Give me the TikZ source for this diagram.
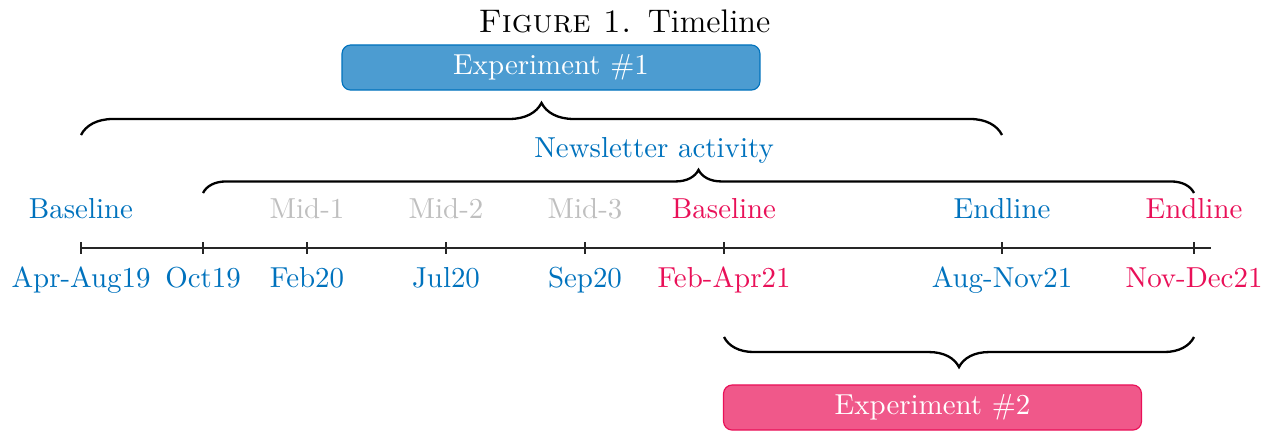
\documentclass[tikz,border=0pt]{standalone}
\usetikzlibrary{decorations.pathreplacing,calc}
\definecolor{myblue}{RGB}{0,114,189}
\definecolor{mypink}{RGB}{233,16,88}
\tikzset{
  lblue/.style={text=myblue,anchor=base,inner sep=0pt},
  lpink/.style={text=mypink,anchor=base,inner sep=0pt},
  lgray/.style={text=black!25,anchor=base,inner sep=0pt},
  tickmark/.style={draw=black!85,line width=0.4pt},
  bracebig/.style={draw,thick,decorate,decoration={brace,amplitude=#1}},
  expbox/.style={rounded corners=3pt,minimum width=144.6pt,minimum height=15.6pt,inner sep=0pt,text=white},
}
\begin{document}
\begin{tikzpicture}[x=0.346pt,y=-0.346pt]
\useasboundingbox (0,0) rectangle (1273,431);
% caption
\node[anchor=base,inner sep=0pt,font=\fontsize{11.3pt}{13pt}\selectfont] (cap) at (624.5,32) {\textsc{Figure 1.}\enspace Timeline};
% experiment boxes
\node[expbox,fill=myblue!70,draw=myblue] (exp1) at (551,67.5) {Experiment \#1};
\node[expbox,fill=mypink!70,draw=mypink] (exp2) at (932.5,407.5) {Experiment \#2};
% axis
\coordinate (a0) at (81,248);
\coordinate (a1) at (1211,248);
\draw[draw=black!85,line width=0.4pt] (a0) -- (a1);
\foreach \n/\x in {t1/81,t2/203,t3/307,t4/446,t5/585,t6/724,t7/1002,t8/1194}{
  \coordinate (\n) at (\x,248);
  \draw[tickmark] ($(\n)+(0,-6)$) -- ($(\n)+(0,6)$);
}
% upper labels
\node[lblue] (b1) at (81,218) {Baseline};
\node[lgray] (m1) at (307,218) {Mid-1};
\node[lgray] (m2) at (446,218) {Mid-2};
\node[lgray] (m3) at (585,218) {Mid-3};
\node[lpink] (b2) at (724,218) {Baseline};
\node[lblue] (e1) at (1002,218) {Endline};
\node[lpink] (e2) at (1194,218) {Endline};
% lower labels
\node[lblue] (d1) at (81,287) {Apr-Aug19};
\node[lblue] (d2) at (203,287) {Oct19};
\node[lblue] (d3) at (307,287) {Feb20};
\node[lblue] (d4) at (446,287) {Jul20};
\node[lblue] (d5) at (585,287) {Sep20};
\node[lpink] (d6) at (724,287) {Feb-Apr21};
\node[lblue] (d7) at (1002,287) {Aug-Nov21};
\node[lpink] (d8) at (1194,287) {Nov-Dec21};
% newsletter
\node[lblue] (news) at (654,157) {Newsletter activity};
% braces
\coordinate (br1a) at (81,135);
\coordinate (br1b) at (1002,135);
\draw[bracebig=11.1pt] (br1a) -- (br1b);
\coordinate (br2a) at (203,193);
\coordinate (br2b) at (1194,193);
\draw[bracebig=8pt] (br2a) -- (br2b);
\coordinate (br3a) at (1194,337);
\coordinate (br3b) at (724,337);
\draw[bracebig=10.4pt] (br3a) -- (br3b);
\end{tikzpicture}
\end{document}
